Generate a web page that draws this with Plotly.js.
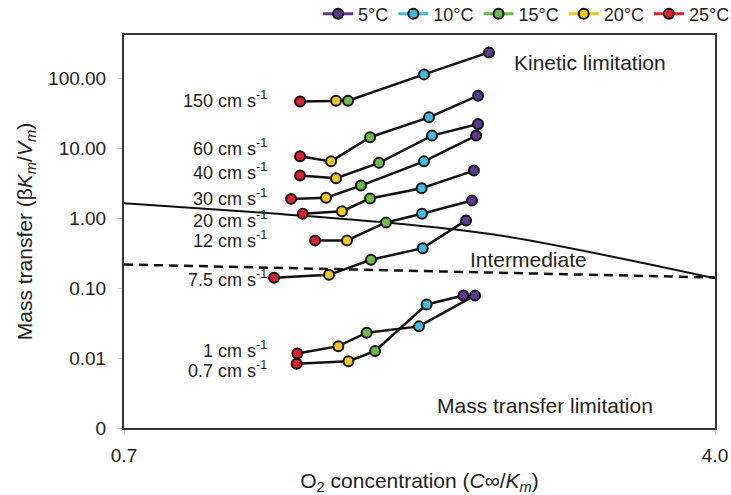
<!DOCTYPE html>
<html>
<head>
<meta charset="utf-8">
<script src="https://cdn.plot.ly/plotly-3.0.1.min.js"></script>
<style>
html,body{margin:0;padding:0;background:#fff;}
#chart{width:731px;height:495px;}
</style>
</head>
<body>
<div id="chart"></div>
<script>
// Legend (temperature) labels and colours
const tempLabels = ['5°C', '10°C', '15°C', '20°C', '25°C'];
const tempColors = ['#5a3a92', '#3fbde0', '#6cbd45', '#f7c814', '#e5202a'];
// point order within each series (left to right): 25, 20, 15, 10, 5 °C
const pointColors = ['#e5202a', '#f7c814', '#6cbd45', '#3fbde0', '#5a3a92'];

// Flow velocity series labels
const seriesLabels = ['150 cm s<sup>-1</sup>', '60 cm s<sup>-1</sup>', '40 cm s<sup>-1</sup>', '30 cm s<sup>-1</sup>',
  '20 cm s<sup>-1</sup>', '12 cm s<sup>-1</sup>', '7.5 cm s<sup>-1</sup>', '1 cm s<sup>-1</sup>', '0.7 cm s<sup>-1</sup>'];

// O2 concentration (x) per series
const x150 = [1.683, 1.884, 1.951, 2.375, 2.738];
const x60  = [1.683, 1.856, 2.074, 2.403, 2.677];
const x40  = [1.683, 1.884, 2.124, 2.420, 2.677];
const x30  = [1.633, 1.828, 2.023, 2.375, 2.666];
const x20  = [1.698, 1.917, 2.074, 2.362, 2.654];
const x12  = [1.767, 1.945, 2.163, 2.364, 2.643];
const x7_5 = [1.538, 1.845, 2.079, 2.368, 2.610];
const x1   = [1.668, 1.897, 2.055, 2.347, 2.660];
const x0_7 = [1.664, 1.953, 2.102, 2.390, 2.595];

// Mass transfer (y) per series
const y150 = [46.5, 48, 48, 114, 235];
const y60  = [7.7, 6.5, 14.4, 27.7, 56.6];
const y40  = [4.07, 3.73, 6.19, 15.2, 22.3];
const y30  = [1.89, 1.96, 2.93, 6.5, 15.2];
const y20  = [1.16, 1.26, 1.91, 2.68, 4.8];
const y12  = [0.48, 0.48, 0.87, 1.16, 1.79];
const y7_5 = [0.141, 0.155, 0.255, 0.373, 0.93];
const y1   = [0.0116, 0.0148, 0.0231, 0.0284, 0.0787];
const y0_7 = [0.0083, 0.0090, 0.0126, 0.0585, 0.0787];

// Regime boundary lines
const kineticBoundX = [0.7, 1.459, 2.163, 2.80, 4.0];
const kineticBoundY = [1.64, 1.205, 0.869, 0.566, 0.138];
const transferBoundX = [0.7, 4.0];
const transferBoundY = [0.218, 0.142];

// Axis ticks
const yTickVals = [0.001, 0.01, 0.1, 1, 10, 100];
const yTickText = ['0', '0.01', '0.10', '1.00', '10.00', '100.00'];
const xTickVals = [0.7, 4.0];
const xTickText = ['0.7', '4.0'];

const allX = [x150, x60, x40, x30, x20, x12, x7_5, x1, x0_7];
const allY = [y150, y60, y40, y30, y20, y12, y7_5, y1, y0_7];
const labelRows = [99, 147, 172, 197, 219, 239, 278, 349, 369]; // pixel rows for labels

const FONT = 'Liberation Sans, Arial, Helvetica, sans-serif';
const traces = [];

traces.push({x: kineticBoundX, y: kineticBoundY, mode: 'lines', line: {color: '#111', width: 2, shape: 'spline', smoothing: 1},
  showlegend: false, hoverinfo: 'skip'});
traces.push({x: transferBoundX, y: transferBoundY, mode: 'lines', line: {color: '#111', width: 2.5, dash: '9px,6px'},
  showlegend: false, hoverinfo: 'skip'});

for (let i = 0; i < allX.length; i++) {
  traces.push({
    x: allX[i], y: allY[i], mode: 'lines+markers', showlegend: false,
    line: {color: '#111', width: 2.5},
    marker: {size: 10, color: pointColors, line: {color: '#111', width: 2}}
  });
}
for (let t = 0; t < tempLabels.length; t++) {
  traces.push({
    x: [null], y: [null], mode: 'lines+markers', name: tempLabels[t],
    line: {color: tempColors[t], width: 3},
    marker: {size: 10, color: tempColors[t], line: {color: '#111', width: 2}}
  });
}

const PW = 591, PH = 393, ML = 124, MT = 35;
const annotations = seriesLabels.map((s, i) => ({
  text: s, xref: 'paper', yref: 'paper', x: (269 - ML) / PW, y: (MT + PH - labelRows[i]) / PH,
  xanchor: 'right', yanchor: 'middle', showarrow: false, font: {size: 18, color: '#222', family: FONT}
}));
const regionText = (t, px, py) => ({text: t, xref: 'paper', yref: 'paper', x: (px - ML) / PW, y: (MT + PH - py) / PH,
  xanchor: 'center', yanchor: 'middle', showarrow: false, font: {size: 21, color: '#222', family: FONT}});
annotations.push(regionText('Kinetic limitation', 590, 62));
annotations.push(regionText('Intermediate', 528, 259));
annotations.push(regionText('Mass transfer limitation', 545, 405));

const layout = {
  width: 731, height: 495,
  margin: {l: ML, r: 731 - ML - PW, t: MT, b: 495 - MT - PH, autoexpand: false},
  paper_bgcolor: '#fff', plot_bgcolor: '#fff',
  font: {family: FONT, size: 19, color: '#222'},
  showlegend: true,
  legend: {orientation: 'h', x: 1.034, xanchor: 'right', y: (MT + PH - 14) / PH, yanchor: 'middle',
    font: {size: 18, color: '#222'}, itemwidth: 30, tracegroupgap: 0, bgcolor: 'rgba(0,0,0,0)'},
  xaxis: {
    type: 'linear', range: [0.7, 4.0], tickvals: xTickVals, ticktext: xTickText,
    showgrid: false, zeroline: false, showline: true, mirror: true, linecolor: '#333', linewidth: 2,
    ticks: 'outside', ticklen: 4, tickcolor: '#ccc', ticklabelstandoff: 5,
    title: {text: 'O<sub>2</sub> concentration (<i>C</i>∞/<i>K<sub>m</sub></i>)', font: {size: 21}, standoff: 12}
  },
  yaxis: {
    type: 'log', range: [-3, 2.62], tickvals: yTickVals, ticktext: yTickText,
    showgrid: false, zeroline: false, showline: true, mirror: true, linecolor: '#333', linewidth: 2,
    ticks: 'outside', ticklen: 4, tickcolor: '#ccc', ticklabelstandoff: 8,
    title: {text: 'Mass transfer (β<i>K<sub>m</sub></i>/<i>V<sub>m</sub></i>)', font: {size: 21}, standoff: 10}
  },
  annotations: annotations
};

Plotly.newPlot('chart', traces, layout, {displayModeBar: false, staticPlot: true});
</script>
</body>
</html>
